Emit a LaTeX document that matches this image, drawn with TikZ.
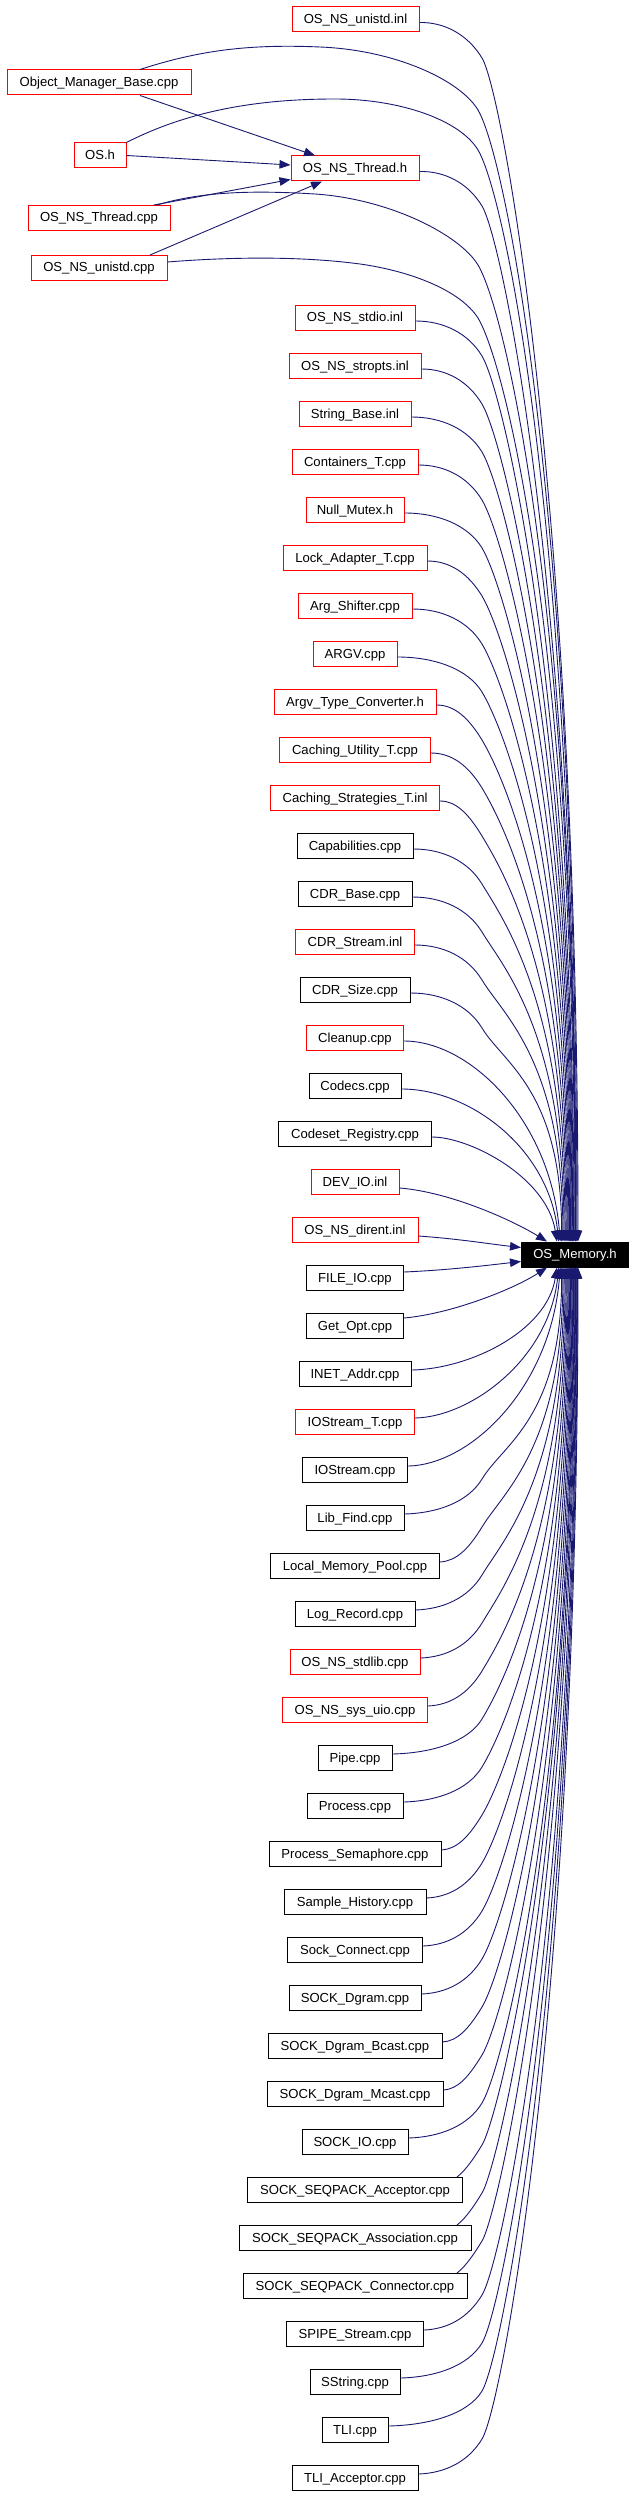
\documentclass[tikz,border=0pt]{standalone}
\usepackage{fontspec}
\setmainfont{Liberation Sans}
\usetikzlibrary{arrows.meta,calc}
\definecolor{edgec}{HTML}{191970}
\begin{document}
\begin{tikzpicture}[x=1pt,y=-1pt,
  nbox/.style={draw, line width=1pt, minimum height=25pt, inner sep=0pt,
    font=\fontsize{13.1}{15}\selectfont, text height=9.5pt, text depth=1.5pt, anchor=center},
  rbox/.style={nbox, draw=red},
  conn/.style={draw=edgec, line width=0.9pt, -{Triangle[length=11pt,width=8.5pt]}},
]
\useasboundingbox (0,0) rectangle (635,2496);
\fill[white] (0,0) rectangle (635,2496);

\node[nbox, fill=black, draw=black, text=white, minimum width=107pt] (mem) at (575,1254.5) {OS\_Memory.h};

\node[rbox, minimum width=127pt] (unistdinl) at (355.5,19.5) {OS\_NS\_unistd.inl};
\node[rbox, minimum width=128pt] (thh) at (355,168.5) {OS\_NS\_Thread.h};
\node[rbox, minimum width=184pt] (omb) at (99,82.5) {Object\_Manager\_Base.cpp};
\node[rbox, minimum width=52pt] (osh) at (100,155.5) {OS.h};
\node[rbox, minimum width=142pt] (thcpp) at (99,218) {OS\_NS\_Thread.cpp};
\node[rbox, minimum width=136pt] (unistdcpp) at (99,268) {OS\_NS\_unistd.cpp};

% edges into OS_NS_Thread.h
\draw[conn] ($(omb.south)+(41,0)$) -- ($(thh.north)+(-40,0)$);
\draw[conn] (osh.east) -- ($(thh.west)+(0,-3.5)$);
\draw[conn] ($(thcpp.north)+(55,0)$) -- ($(thh.west)+(0,11)$);
\draw[conn] ($(unistdcpp.north)+(51,0)$) -- ($(thh.south)+(-33,0)$);

% top edges into OS_Memory.h
\draw[conn] ([yshift=-3pt]unistdinl.east) .. controls (445,22) and (468,35) .. (482,58)
  .. controls (503,93) and (578,509) .. ($(mem.north)+(3,0)$);
\draw[conn] ($(omb.north)+(41,0)$) .. controls (200,50) and (250,44) .. (320,47)
  .. controls (395,50) and (460,80) .. (478,110)
  .. controls (505,155) and (577,506) .. ($(mem.north)+(2,0)$);
\draw[conn] (osh.north east) .. controls (190,110) and (260,99) .. (335,99)
  .. controls (400,99) and (460,120) .. (478,150)
  .. controls (505,195) and (576,532) .. ($(mem.north)+(1,0)$);
\draw[conn] ([yshift=-3pt]thh.east) .. controls (445,171) and (468,183) .. (482,206)
  .. controls (503,241) and (576,598) .. ($(mem.north)+(1,0)$);
\draw[conn] ($(thcpp.north)+(58,0)$) .. controls (200,192) and (250,190) .. (315,194)
  .. controls (390,199) and (460,235) .. (478,265)
  .. controls (505,310) and (575.5,607) .. ($(mem.north)+(0.5,0)$);
\draw[conn] ([yshift=6pt]unistdcpp.east) .. controls (230,257) and (300,256) .. (360,264)
  .. controls (410,271) and (460,290) .. (478,318)
  .. controls (505,363) and (575,641) .. ($(mem.north)+(0,0)$);

\foreach \kk/\nm/\lab/\ww/\cc/\tp in {
0/stdio/OS\_NS\_stdio.inl/120/red/0,
1/stropts/OS\_NS\_stropts.inl/132/red/0,
2/strbase/String\_Base.inl/112/red/0,
3/contT/Containers\_T.cpp/126/red/0,
4/nullmx/Null\_Mutex.h/98/red/0,
5/lockad/Lock\_Adapter\_T.cpp/144/red/0,
6/argsh/Arg\_Shifter.cpp/114/red/0,
7/argv/ARGV.cpp/84/red/0,
8/argvtc/Argv\_Type\_Converter.h/162/red/0,
9/cachu/Caching\_Utility\_T.cpp/151/red/0,
10/cachs/Caching\_Strategies\_T.inl/169/red/0,
11/capab/Capabilities.cpp/116/black/0,
12/cdrbase/CDR\_Base.cpp/114/black/0,
13/cdrstream/CDR\_Stream.inl/119/red/0,
14/cdrsize/CDR\_Size.cpp/110/black/0,
15/cleanup/Cleanup.cpp/97/red/0,
16/codecs/Codecs.cpp/92/black/0,
17/codeset/Codeset\_Registry.cpp/153/black/0,
18/devio/DEV\_IO.inl/88/red/1,
19/dirent/OS\_NS\_dirent.inl/126/red/1,
20/fileio/FILE\_IO.cpp/97/black/1,
21/getopt/Get\_Opt.cpp/97/black/1,
22/inet/INET\_Addr.cpp/112/black/0,
23/iostT/IOStream\_T.cpp/119/red/0,
24/iost/IOStream.cpp/105/black/0,
25/libfind/Lib\_Find.cpp/98/black/0,
26/localmp/Local\_Memory\_Pool.cpp/169/black/0,
27/logrec/Log\_Record.cpp/120/black/0,
28/stdlibn/OS\_NS\_stdlib.cpp/130/red/0,
29/sysuio/OS\_NS\_sys\_uio.cpp/145/red/0,
30/pipen/Pipe.cpp/74/black/0,
31/process/Process.cpp/96/black/0,
32/procsem/Process\_Semaphore.cpp/172/black/0,
33/samphist/Sample\_History.cpp/142/black/0,
34/sockconn/Sock\_Connect.cpp/135/black/0,
35/dgram/SOCK\_Dgram.cpp/132/black/0,
36/bcast/SOCK\_Dgram\_Bcast.cpp/174/black/0,
37/mcast/SOCK\_Dgram\_Mcast.cpp/176/black/0,
38/sockio/SOCK\_IO.cpp/106/black/0,
39/seqacc/SOCK\_SEQPACK\_Acceptor.cpp/215/black/2,
40/seqass/SOCK\_SEQPACK\_Association.cpp/232/black/2,
41/seqcon/SOCK\_SEQPACK\_Connector.cpp/224/black/2,
42/spipe/SPIPE\_Stream.cpp/137/black/0,
43/sstring/SString.cpp/90/black/0,
44/tli/TLI.cpp/66/black/0,
45/tliacc/TLI\_Acceptor.cpp/126/black/0} {
  \pgfmathsetmacro\yy{318+48*\kk}
  \pgfmathsetmacro\sx{355+\ww/2}
  \node[nbox, draw=\cc, minimum width=\ww pt] (\nm) at (355,\yy) {\lab};
  \ifnum\tp=0
    \ifnum\kk<20
      \pgfmathsetmacro\dd{1242-\yy}
      \pgfmathsetmacro\exx{548+30*sqrt(\dd/1222)}
      \ifdim\dd pt<210pt
        \draw[conn] ([yshift=-3pt]\nm.east) .. controls (470,\yy+3) and (\exx-10,\yy+0.4*\dd)
          .. ($(mem.north)+(\exx-575,0)$);
      \else
        \draw[conn] ([yshift=-3pt]\nm.east) .. controls (\sx/2+236,\yy+3) and (468,\yy+15) .. (482,\yy+38)
          .. controls (503,\yy+73) and (\exx,\yy+0.4*\dd) .. ($(mem.north)+(\exx-575,0)$);
      \fi
    \else
      \pgfmathsetmacro\dd{\yy-1267}
      \pgfmathsetmacro\exx{548+30*sqrt(\dd/1211)}
      \ifdim\dd pt<210pt
        \draw[conn] ([yshift=4pt]\nm.east) .. controls (470,\yy-5) and (\exx-10,\yy-0.4*\dd)
          .. ($(mem.south)+(\exx-575,0)$);
      \else
        \draw[conn] ([yshift=4pt]\nm.east) .. controls (\sx/2+236,\yy-5) and (468,\yy-16) .. (482,\yy-39)
          .. controls (503,\yy-74) and (\exx,\yy-0.4*\dd) .. ($(mem.south)+(\exx-575,0)$);
      \fi
    \fi
  \fi
  \ifnum\tp=2
    \pgfmathsetmacro\dd{\yy-1267}
    \pgfmathsetmacro\exx{548+30*sqrt(\dd/1211)}
    \draw[conn] ($(\nm.north)+(102,0)$) .. controls (466,\yy-20) and (474,\yy-32) .. (482,\yy-45)
      .. controls (498,\yy-71) and (\exx,\yy-0.4*\dd) .. ($(mem.south)+(\exx-575,0)$);
  \fi
}

% special near edges
\draw[conn] ([yshift=-6pt]devio.east) .. controls (450,1192) and (512,1220) .. ($(mem.north west)+(26,0)$);
\draw[conn] ([yshift=-6pt]dirent.east) .. controls (460,1239) and (490,1244) .. ($(mem.west)+(0,-7)$);
\draw[conn] ([yshift=6pt]fileio.east) .. controls (450,1270) and (490,1265) .. ($(mem.west)+(0,7)$);
\draw[conn] ([yshift=8pt]getopt.east) .. controls (450,1314) and (512,1290) .. ($(mem.south west)+(26,0)$);
\end{tikzpicture}
\end{document}
